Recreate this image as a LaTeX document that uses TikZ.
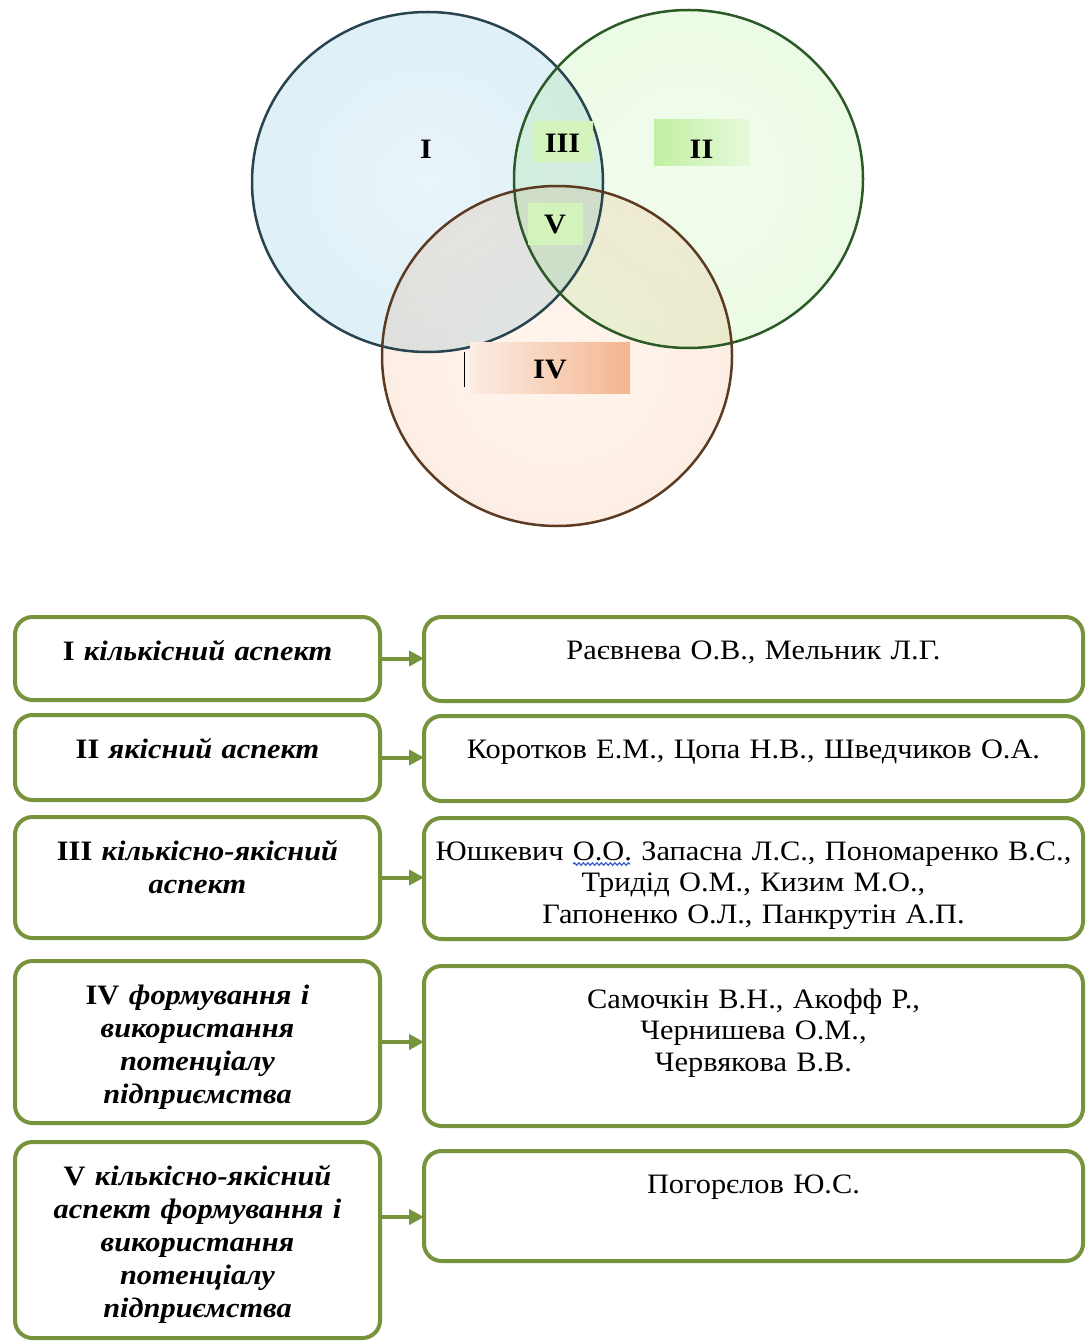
\documentclass[tikz,border=0pt]{standalone}
\usepackage{fontspec}
\setmainfont{Liberation Serif}[FakeStretch=1.08]
\usetikzlibrary{arrows.meta,positioning,decorations.pathmorphing}

\definecolor{frame}{HTML}{77933C}
\definecolor{blueline}{HTML}{27444F}
\definecolor{greenline}{HTML}{2C5A27}
\definecolor{orangeline}{HTML}{5C3B22}
\definecolor{taggreen}{HTML}{D2F4BC}
\definecolor{tagleft}{HTML}{C2F0A2}
\definecolor{tagright}{HTML}{E6F9DA}
\definecolor{tagpeach}{HTML}{F3B690}
\definecolor{spell}{HTML}{3A5FD0}

\pgfdeclareradialshading{glassblue}{\pgfpoint{0bp}{0bp}}{rgb(0bp)=(0.91,0.96,0.98); rgb(38bp)=(0.86,0.93,0.96); rgb(45bp)=(0.70,0.86,0.91); rgb(50bp)=(0.50,0.76,0.83)}
\pgfdeclareradialshading{glassgreen}{\pgfpoint{0bp}{0bp}}{rgb(0bp)=(0.95,0.99,0.93); rgb(38bp)=(0.91,0.98,0.88); rgb(45bp)=(0.75,0.94,0.69); rgb(50bp)=(0.47,0.84,0.39)}
\pgfdeclareradialshading{glassorange}{\pgfpoint{0bp}{0bp}}{rgb(0bp)=(1.00,0.96,0.93); rgb(38bp)=(0.99,0.92,0.88); rgb(45bp)=(0.97,0.81,0.70); rgb(50bp)=(0.92,0.64,0.46)}

\begin{document}
\begin{tikzpicture}[
    aspect/.style={
        draw=frame,
        line width=0.08cm,
        rounded corners=0.35cm,
        fill=white,
        inner sep=0pt,
        outer sep=0pt,
        text width=7.30cm,
        align=center,
        text height=0.86cm,
        text depth=#1,
        font=\fontsize{16}{18.8}\selectfont\bfseries\itshape
    },
    authors/.style={
        draw=frame,
        line width=0.08cm,
        rounded corners=0.35cm,
        fill=white,
        inner sep=0pt,
        outer sep=0pt,
        text width=13.18cm,
        align=center,
        text height=0.84cm,
        text depth=#1,
        font=\fontsize{16}{18.2}\selectfont
    },
    tag/.style={
        inner sep=0pt,
        anchor=base,
        font=\fontsize{16}{18}\selectfont\bfseries
    },
    arrow/.style={-{Triangle[length=0.3cm,width=0.3cm]}, line width=0.08cm, draw=frame},
    squiggle/.style={spell, line width=0.025cm, decorate, decoration={snake, amplitude=0.025cm, segment length=0.09cm}}
]
\useasboundingbox (0,0) rectangle (21.70,-26.82);

\begin{scope}[blend group=multiply]
\shade[shading=glassblue] (8.55,-3.64) ellipse [x radius=3.51cm, y radius=3.40cm];
\shade[shading=glassgreen] (13.77,-3.58) ellipse [x radius=3.49cm, y radius=3.38cm];
\shade[shading=glassorange] (11.14,-7.12) ellipse [x radius=3.50cm, y radius=3.40cm];
\end{scope}
\draw[line width=0.05cm, blueline] (8.55,-3.64) ellipse [x radius=3.51cm, y radius=3.40cm];
\draw[line width=0.05cm, greenline] (13.77,-3.58) ellipse [x radius=3.49cm, y radius=3.38cm];
\draw[line width=0.05cm, orangeline] (11.14,-7.12) ellipse [x radius=3.50cm, y radius=3.40cm];

\node[tag] (tI) at (8.52,-3.18) {I};
\node[tag, fill=taggreen, minimum width=1.2cm, text height=0.64cm, text depth=0.18cm] (tIII) at (11.25,-3.06) {III};
\node[tag, left color=tagleft, right color=tagright, minimum width=1.9cm, text height=0.78cm, text depth=0.14cm] (tII) at (14.03,-3.18) {II};
\node[tag, fill=taggreen, minimum width=1.1cm, text height=0.62cm, text depth=0.22cm] (tV) at (11.10,-4.68) {V};
\node[tag, left color=tagpeach!25, right color=tagpeach, minimum width=3.2cm, text height=0.72cm, text depth=0.30cm] (tIV) at (11.00,-7.56) {IV};
\draw[line width=0.03cm] ([xshift=-0.1cm,yshift=-0.2cm]tIV.north west) -- ++(0,-0.7);

\node[aspect=0.80cm, anchor=north west] (a1) at (0.30,-12.34) {\textup{I} кількісний аспект};
\node[aspect=0.84cm, below=0.30cm of a1] (a2) {\textup{II} якісний аспект};
\node[aspect=1.56cm, below=0.34cm of a2] (a3) {\textup{III} кількісно-якісний\\ аспект};
\node[aspect=2.38cm, below=0.46cm of a3] (a4) {\textup{IV} формування і\\ використання\\ потенціалу\\ підприємства};
\node[aspect=3.06cm, below=0.38cm of a4] (a5) {\textup{V} кількісно-якісний\\ аспект формування і\\ використання\\ потенціалу\\ підприємства};

\node[authors=0.84cm, right=0.88cm of a1.north east, anchor=north west] (b1) {Раєвнева О.В., Мельник Л.Г.};
\node[authors=0.86cm, below=0.30cm of b1] (b2) {Коротков Е.М., Цопа Н.В., Шведчиков О.А.};
\node[authors=1.58cm, below=0.34cm of b2] (b3) {Юшкевич О.О. Запасна Л.С., Пономаренко В.С.,\\ Тридід О.М., Кизим М.О.,\\ Гапоненко О.Л., Панкрутін А.П.};
\node[authors=2.36cm, below=0.54cm of b3] (b4) {Самочкін В.Н., Акофф Р.,\\ Чернишева О.М.,\\ Червякова В.В.};
\node[authors=1.36cm, below=0.50cm of b4] (b5) {Погорєлов Ю.С.};

\draw[squiggle] ([xshift=2.98cm,yshift=-0.92cm]b3.north west) -- ++(1.14,0);

\draw[arrow] (a1.east) -- (a1.east -| b1.west);
\draw[arrow] (a2.east) -- (a2.east -| b2.west);
\draw[arrow] (a3.east) -- (a3.east -| b3.west);
\draw[arrow] (a4.east) -- (a4.east -| b4.west);
\draw[arrow] ([yshift=0.46cm]a5.east) -- ([yshift=0.46cm]a5.east -| b5.west);
\end{tikzpicture}
\end{document}
